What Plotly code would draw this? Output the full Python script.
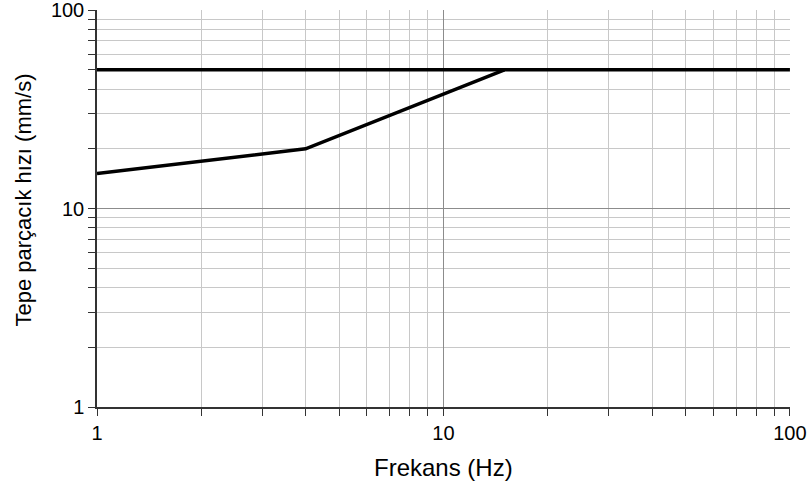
import plotly.graph_objects as go

# Limit curve: peak particle velocity vs. frequency
limit_freq = [1, 4, 15]
limit_ppv = [15, 20, 50]

# Upper cap line
cap_freq = [1, 100]
cap_ppv = [50, 50]

major_vals = [1, 10, 100]
major_text = ["1", "10", "100"]
minor_vals = [2, 3, 4, 5, 6, 7, 8, 9, 20, 30, 40, 50, 60, 70, 80, 90]

FONT = "Liberation Sans, Arial, sans-serif"

fig = go.Figure()
fig.add_trace(go.Scatter(x=cap_freq, y=cap_ppv, mode="lines",
                         line=dict(color="black", width=3.5), showlegend=False))
fig.add_trace(go.Scatter(x=limit_freq, y=limit_ppv, mode="lines",
                         line=dict(color="black", width=3.5), showlegend=False))

axis_common = dict(
    type="log",
    range=[0, 2.0002],
    tickvals=major_vals,
    ticktext=major_text,
    ticks="outside",
    ticklen=7,
    tickcolor="#333333",
    showline=True,
    linecolor="#333333",
    linewidth=1.5,
    showgrid=True,
    gridcolor="#8c8c8c",
    gridwidth=1,
    zeroline=False,
    automargin=False,
    ticklabeloverflow="allow",
    tickfont=dict(family=FONT, size=20, color="black"),
    minor=dict(tickvals=minor_vals, ticks="outside", ticklen=7, tickcolor="#333333",
               showgrid=True, gridcolor="#c8c8c8", gridwidth=1),
)

fig.update_xaxes(**axis_common)
fig.update_yaxes(**axis_common)

# Axis titles
fig.add_annotation(text="Frekans (Hz)", xref="paper", yref="paper", x=0.5, y=0,
                   yshift=-60, yanchor="middle", xanchor="center", showarrow=False,
                   font=dict(family=FONT, size=24, color="black"))
fig.add_annotation(text="Tepe parçacık hızı (mm/s)", xref="paper", yref="paper", x=0, y=0.52,
                   xshift=-73, xanchor="center", yanchor="middle", textangle=-90,
                   showarrow=False, font=dict(family=FONT, size=22, color="black"))

fig.update_layout(
    width=811, height=488,
    margin=dict(l=97, r=21, t=10, b=81),
    plot_bgcolor="white",
    paper_bgcolor="white",
)

fig.write_html("out.html")
